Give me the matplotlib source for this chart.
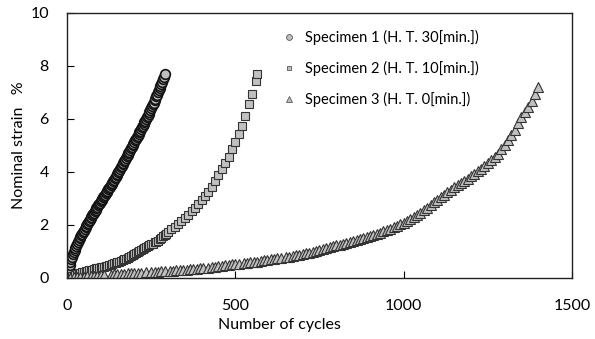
import matplotlib.pyplot as plt

plt.rcParams['font.family'] = ['Lato', 'DejaVu Sans']

# Specimen 1 (H. T. 30 min.)
cycles_1 = [0, 2.5, 5, 7.5, 10, 12.5, 15, 17.5, 20, 22.5, 25, 27.5, 30, 32.5, 35, 37.5,
            40, 42.5, 45, 47.5, 50, 52.5, 55, 57.5, 60, 62.5, 65, 67.5, 70, 72.5, 75, 77.5,
            80, 82.5, 85, 87.5, 90, 92.5, 95, 97.5, 100, 102.5, 105, 107.5, 110, 112.5,
            115, 117.5, 120, 122.5, 125, 127.5, 130, 132.5, 135, 137.5, 140, 142.5, 145,
            147.5, 150, 152.5, 155, 157.5, 160, 162.5, 165, 167.5, 170, 172.5, 175, 177.5,
            180, 182.5, 185, 187.5, 190, 192.5, 195, 197.5, 200, 202.5, 205, 207.5, 210,
            212.5, 215, 217.5, 220, 222.5, 225, 227.5, 230, 232.5, 235, 237.5, 240, 242.5,
            245, 247.5, 250, 252.5, 255, 257.5, 260, 262.5, 265, 267.5, 270, 272.5, 275,
            277.5, 280, 282.5, 285, 287.5, 290]
strain_1 = [0.0, 0.2, 0.35, 0.48, 0.6, 0.7, 0.8, 0.89, 0.97, 1.05, 1.13, 1.21, 1.28, 1.35,
            1.42, 1.49, 1.55, 1.61, 1.67, 1.73, 1.79, 1.85, 1.91, 1.97, 2.03, 2.09, 2.14,
            2.2, 2.25, 2.31, 2.36, 2.42, 2.47, 2.53, 2.58, 2.64, 2.69, 2.74, 2.79, 2.84,
            2.89, 2.94, 2.99, 3.04, 3.09, 3.14, 3.19, 3.24, 3.29, 3.34, 3.39, 3.45, 3.5,
            3.55, 3.6, 3.66, 3.71, 3.77, 3.82, 3.88, 3.94, 4.0, 4.05, 4.11, 4.17, 4.23,
            4.29, 4.35, 4.41, 4.47, 4.53, 4.59, 4.65, 4.71, 4.77, 4.83, 4.89, 4.95, 5.01,
            5.07, 5.13, 5.19, 5.25, 5.31, 5.37, 5.43, 5.49, 5.55, 5.61, 5.68, 5.74, 5.8,
            5.87, 5.93, 6.0, 6.06, 6.13, 6.2, 6.27, 6.34, 6.41, 6.48, 6.55, 6.62, 6.7,
            6.77, 6.85, 6.92, 7.0, 7.08, 7.16, 7.24, 7.32, 7.41, 7.5, 7.59, 7.68]

# Specimen 2 (H. T. 10 min.)
cycles_2 = [0, 5, 10, 15, 20, 25, 30, 35, 40, 45, 50, 55, 60, 65, 70, 75, 80, 85, 90, 95,
            100, 105, 110, 115, 120, 125, 130, 135, 140, 145, 150, 155, 160, 165, 170, 175,
            180, 185, 190, 195, 200, 205, 210, 215, 220, 225, 230, 235, 240, 245, 250, 255,
            260, 265, 270, 275, 280, 285, 290, 295, 300, 310, 320, 330, 340, 350, 360, 370,
            380, 390, 400, 410, 420, 430, 440, 450, 460, 470, 480, 490, 500, 510, 520, 530,
            540, 550, 560, 565]
strain_2 = [0.0, 0.03, 0.05, 0.07, 0.09, 0.12, 0.14, 0.17, 0.19, 0.21, 0.23, 0.25, 0.27,
            0.29, 0.3, 0.32, 0.34, 0.36, 0.37, 0.39, 0.4, 0.42, 0.43, 0.45, 0.46, 0.48, 0.5,
            0.52, 0.55, 0.57, 0.6, 0.62, 0.65, 0.67, 0.7, 0.73, 0.77, 0.8, 0.84, 0.87, 0.91,
            0.94, 0.98, 1.02, 1.06, 1.1, 1.14, 1.17, 1.2, 1.24, 1.27, 1.3, 1.34, 1.37, 1.41,
            1.46, 1.52, 1.57, 1.62, 1.67, 1.73, 1.83, 1.94, 2.05, 2.16, 2.27, 2.39, 2.52,
            2.65, 2.78, 2.95, 3.1, 3.25, 3.45, 3.65, 3.88, 4.1, 4.33, 4.57, 4.85, 5.13, 5.45,
            5.75, 6.1, 6.55, 6.94, 7.45, 7.7]

# Specimen 3 (H. T. 0 min.)
cycles_3 = [0, 10, 20, 30, 40, 50, 60, 70, 80, 90, 100, 110,
            130, 140, 150, 160, 170, 180, 190, 200, 210, 220, 235,
            250, 260, 270, 280, 290, 305,
            315, 325, 335, 345, 355, 365, 375, 385, 395, 405, 418,
            430, 440, 450, 460, 470, 480, 490, 500, 510, 525,
            535, 545, 555, 565, 575, 585, 595, 605, 615, 625, 635, 650, 660, 670, 680, 690,
            700, 710, 720, 730, 740, 750, 760, 770, 780, 790, 800, 810, 820, 830, 840, 850,
            860, 870, 880, 890, 900, 910, 920, 930, 940, 950, 960, 970, 980, 990, 1000,
            1010, 1020, 1030, 1040, 1050, 1060, 1070, 1080, 1090, 1100, 1110, 1120, 1130,
            1140, 1150, 1160, 1170, 1180, 1190, 1200, 1210, 1220, 1230, 1240, 1250, 1260,
            1270, 1280, 1290, 1300, 1310, 1320, 1330, 1340, 1350, 1360, 1370, 1380, 1390, 1398]
strain_3 = [0.0, 0.01, 0.02, 0.03, 0.04, 0.05, 0.06, 0.07, 0.08, 0.09, 0.1, 0.12,
            0.13, 0.14, 0.15, 0.15, 0.16, 0.17, 0.18, 0.18, 0.19, 0.2, 0.21,
            0.22, 0.23, 0.24, 0.25, 0.26, 0.27,
            0.28, 0.29, 0.3, 0.31, 0.32, 0.33, 0.34, 0.35, 0.36, 0.37, 0.38,
            0.41, 0.43, 0.45, 0.46, 0.48, 0.5, 0.51, 0.52, 0.54, 0.56,
            0.58, 0.59, 0.61, 0.62, 0.64, 0.66, 0.68, 0.7, 0.72, 0.74, 0.76, 0.78, 0.8, 0.82,
            0.85, 0.87, 0.9, 0.93, 0.96, 0.99, 1.02, 1.06, 1.1, 1.13, 1.16, 1.2, 1.23, 1.26,
            1.29, 1.32, 1.35, 1.39, 1.43, 1.47, 1.51, 1.55, 1.58, 1.62, 1.66, 1.71, 1.76,
            1.81, 1.86, 1.91, 1.96, 2.02, 2.08, 2.15, 2.22, 2.3, 2.38, 2.46, 2.55, 2.65,
            2.75, 2.85, 2.95, 3.05, 3.15, 3.24, 3.33, 3.42, 3.5, 3.58, 3.67, 3.75, 3.84,
            3.93, 4.03, 4.13, 4.24, 4.35, 4.46, 4.57, 4.69, 4.85, 5.02, 5.2, 5.38, 5.6,
            5.83, 6.08, 6.28, 6.47, 6.66, 6.93, 7.2]

labels = ['Specimen 1 (H. T. 30[min.])',
          'Specimen 2 (H. T. 10[min.])',
          'Specimen 3 (H. T. 0[min.])']

fig = plt.figure(figsize=(5.95, 3.39), dpi=100)
ax = fig.add_axes([0.1126, 0.18, 0.8487, 0.7817])

face = '#c0c0c0'
ax.plot(cycles_1, strain_1, 'o', ms=7, mfc=face, mec='#141414', mew=1.2, label=labels[0])
ax.plot(cycles_2, strain_2, 's', ms=6, mfc=face, mec='#333333', mew=0.8, label=labels[1])
ax.plot(cycles_3, strain_3, '^', ms=6.5, mfc=face, mec='#333333', mew=0.8, label=labels[2])

ax.set_xlim(0, 1500)
ax.set_ylim(0, 10)
ax.set_xticks([0, 500, 1000, 1500])
ax.set_yticks([0, 2, 4, 6, 8, 10])
ax.tick_params(direction='in', length=5, labelsize=11.5)
ax.tick_params(axis='x', pad=15)
ax.tick_params(axis='y', pad=13)
for s in ax.spines.values():
    s.set_linewidth(1.0)
    s.set_color('#222222')

ax.set_xlabel('Number of cycles', fontsize=11.5, labelpad=4, x=0.42)
ax.set_ylabel('Nominal strain   %', fontsize=11.5, labelpad=3)

leg = ax.legend(loc='upper left', bbox_to_anchor=(0.40, 0.985), frameon=False,
                fontsize=10.5, markerscale=0.6, handletextpad=0.6, labelspacing=1.1,
                handlelength=1.0)
for h in leg.legend_handles:
    h.set_markeredgewidth(0.6)
    h.set_markeredgecolor('#555555')

fig.savefig('out.png', dpi=100)
